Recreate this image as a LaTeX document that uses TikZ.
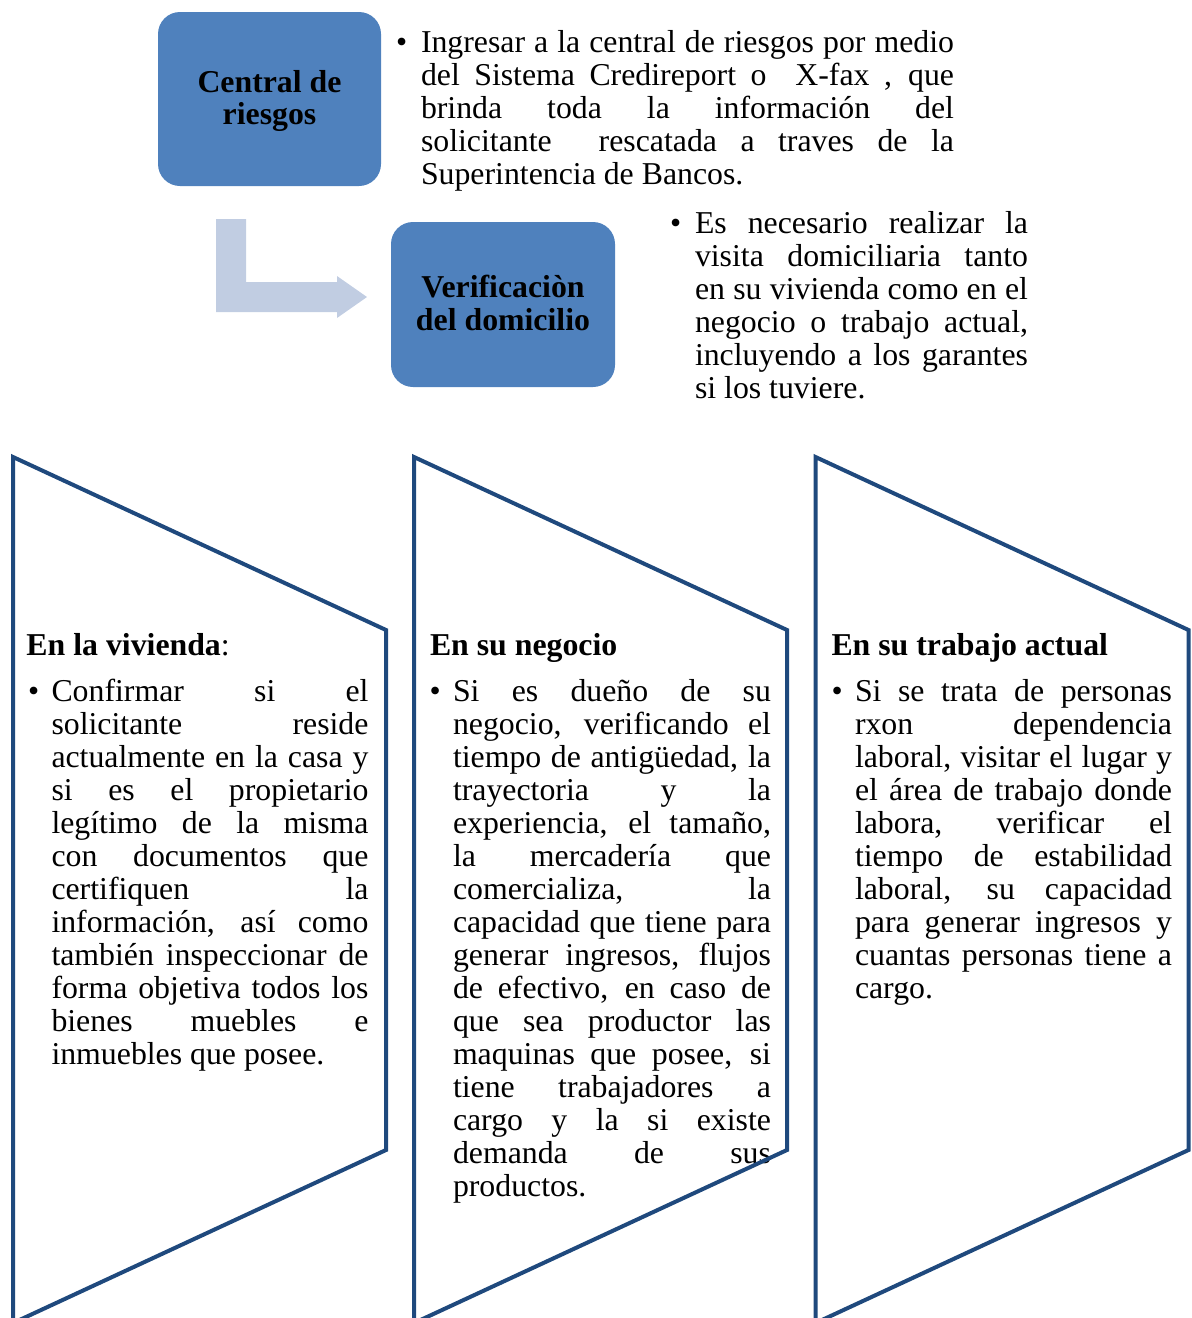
\documentclass[tikz,border=0pt]{standalone}
\usepackage{fontspec}
\setmainfont{Liberation Serif}
\definecolor{boxblue}{HTML}{4F81BD}
\definecolor{arrowblue}{RGB}{193,205,226}
\definecolor{panelblue}{HTML}{1F497D}
\newcommand\jline[1]{\makebox[\linewidth][s]{#1}\par}
\newcommand\lline[1]{#1\par}
\newcommand\myparas[2]{\parbox[t]{#1pt}{\fontsize{31.8}{33}\selectfont #2}}
\begin{document}
\begin{tikzpicture}[x=1pt,y=-1pt,
  txt/.style={inner sep=0pt, outer sep=0pt, anchor=base west, font=\fontsize{31.8}{33}\selectfont},
  boxtxt/.style={inner sep=0pt, anchor=base, font=\fontsize{31.8}{33}\selectfont\bfseries},
  headtxt/.style={txt, font=\fontsize{31.8}{33}\selectfont\bfseries},
  rbox/.style={fill=boxblue, draw=none, rounded corners=22pt, inner sep=0pt},
  panel/.style={draw=panelblue, line width=4pt, line join=miter}
]
\useasboundingbox (0,0) rectangle (1192,1318);

% top boxes
\node[rbox, minimum width=223pt, minimum height=174pt] (central) at (269.5,99) {};
\node[boxtxt] (centralA) at (269.5,92) {Central de};
\node[boxtxt] (centralB) at (269.5,124) {riesgos};

\node[rbox, minimum width=224pt, minimum height=165pt] (verif) at (503,304.5) {};
\node[boxtxt] (verifA) at (503,297) {Verificaciòn};
\node[boxtxt] (verifB) at (503,330) {del domicilio};

% bent arrow
\coordinate (a1) at (216,219);
\fill[arrowblue] (a1) -- (246,219) -- (246,282) -- (337,282) -- (337,276) -- (367,297) -- (337,318) -- (337,312) -- (216,312) -- cycle;

% top paragraphs
\node[txt] (b1) at (396,52) {•};
\node[txt] (p1) at (421,52) {\myparas{533}{%
\jline{Ingresar a la central de riesgos por medio}
\jline{del Sistema Credireport o \ X-fax , que}
\jline{brinda toda la información del}
\jline{solicitante \ rescatada a traves de la}
\lline{Superintencia de Bancos.}}};

\node[txt] (b2) at (670,233) {•};
\node[txt] (p2) at (695,233) {\myparas{333}{%
\jline{Es necesario realizar la}
\jline{visita domiciliaria tanto}
\jline{en su vivienda como en el}
\jline{negocio o trabajo actual,}
\jline{incluyendo a los garantes}
\lline{si los tuviere.}}};

% panel 1
\node[headtxt] (h1) at (26.5,655) {En la vivienda\textmd{:}};
\node[txt] (b3) at (28,701) {•};
\node[txt] (q1) at (51.5,701) {\myparas{317}{%
\jline{Confirmar si el}
\jline{solicitante reside}
\jline{actualmente en la casa y}
\jline{si es el propietario}
\jline{legítimo de la misma}
\jline{con documentos que}
\jline{certifiquen la}
\jline{información, así como}
\jline{también inspeccionar de}
\jline{forma objetiva todos los}
\jline{bienes muebles e}
\lline{inmuebles que posee.}}};

% panel 2
\node[headtxt] (h2) at (430,655) {En su negocio};
\node[txt] (b4) at (429.5,701) {•};
\node[txt] (q2) at (453,701) {\myparas{318}{%
\jline{Si es dueño de su}
\jline{negocio, verificando el}
\jline{tiempo de antigüedad, la}
\jline{trayectoria y la}
\jline{experiencia, el tamaño,}
\jline{la mercadería que}
\jline{comercializa, la}
\jline{capacidad que tiene para}
\jline{generar ingresos, flujos}
\jline{de efectivo, en caso de}
\jline{que sea productor las}
\jline{maquinas que posee, si}
\jline{tiene trabajadores a}
\jline{cargo y la si existe}
\jline{demanda de sus}
\lline{productos.}}};

% panel 3
\node[headtxt] (h3) at (831.5,655) {En su trabajo actual};
\node[txt] (b5) at (831.5,701) {•};
\node[txt] (q3) at (855,701) {\myparas{317}{%
\jline{Si se trata de personas}
\jline{rxon dependencia}
\jline{laboral, visitar el lugar y}
\jline{el área de trabajo donde}
\jline{labora, verificar el}
\jline{tiempo de estabilidad}
\jline{laboral, su capacidad}
\jline{para generar ingresos y}
\jline{cuantas personas tiene a}
\lline{cargo.}}};

% panels
\begin{scope}
\clip (0,0) rectangle (1192,1318);
\foreach \L in {13,414,815.5}{
  \draw[panel] (\L,457) -- ++(373,173) -- ++(0,520) -- ++(-373,173) -- cycle;
}
\end{scope}
\end{tikzpicture}
\end{document}
